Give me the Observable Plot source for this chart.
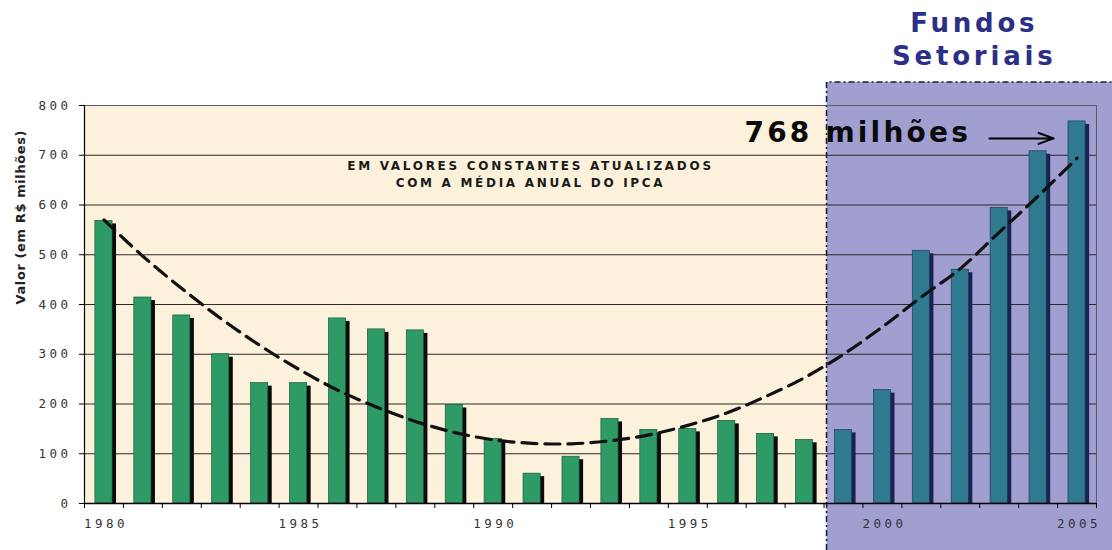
<!DOCTYPE html>
<html><head><meta charset="utf-8">
<script src="https://cdn.jsdelivr.net/npm/d3@7"></script>
<script src="https://cdn.jsdelivr.net/npm/@observablehq/plot@0.6"></script>
<style>
html,body{margin:0;padding:0;background:#fff;}
#chart{width:1112px;height:550px;overflow:hidden;}
</style></head><body><div id="chart"></div>
<script>
const anos = [1980,1981,1982,1983,1984,1985,1986,1987,1988,1989,1990,1991,1992,1993,1994,1995,1996,1997,1998,1999,2000,2001,2002,2003,2004,2005];
const valores = [568,414,378,300,242,242,372,350,348,198,130,60,94,170,148,150,166,140,128,148,228,508,470,594,708,768];
const tendencia = [570,497,432,372,318,270,228,194,165,143,128,121,120,126,138,157,182,215,253,300,355,415,472,545,618,694];
const ticksValor = [0,100,200,300,400,500,600,700,800];
const rotulosAnos = [1980,1985,1990,1995,2000,2005];
const inicioFundos = 1999;
const titulo = "Fundos\nSetoriais";
const nota = "EM VALORES CONSTANTES ATUALIZADOS\nCOM A MÉDIA ANUAL DO IPCA";
const rotuloY = "Valor (em R$ milhões)";
const unidade = "milhões";

const dados = anos.map((ano, i) => ({ano, valor: valores[i], tendencia: tendencia[i], fundos: ano >= inicioFundos}));
const limites = [anos[0] - 0.5, ...anos.map(a => a + 0.5)];
const ultimo = dados[dados.length - 1];
const centroFundos = d3.mean(anos.filter(a => a >= inicioFundos));
const meia = 0.22;

function caixaFundos(index, scales, values, dim) {
  const x0 = scales.x(inicioFundos - 0.5) + 3;
  const y0 = dim.marginTop - 23;
  const g = d3.create("svg:g");
  g.append("rect").attr("x", x0).attr("y", y0).attr("width", dim.width - x0).attr("height", dim.height - y0).attr("fill", "#a19ed0");
  g.append("path").attr("d", `M${x0},${dim.height}V${y0}H${dim.width}`).attr("fill", "none")
    .attr("stroke", "#1c1c40").attr("stroke-width", 1.6).attr("stroke-dasharray", "6,3,2,3");
  return g.node();
}

const mono = "'DejaVu Sans Mono', monospace";

const chart = Plot.plot({
  width: 1112, height: 550,
  marginTop: 105, marginBottom: 47, marginLeft: 84, marginRight: 16,
  style: {background: "transparent", fontFamily: "DejaVu Sans", overflow: "visible"},
  x: {domain: [limites[0], limites[limites.length - 1]], axis: null},
  y: {domain: [0, 800], axis: null},
  marks: [
    Plot.frame({fill: "#fcf1da"}),
    caixaFundos,
    Plot.ruleY(ticksValor.filter(v => v > 0 && v < 800), {stroke: "#2a2a2a", strokeWidth: 1}),
    Plot.frame({stroke: "#5a5a6a", strokeWidth: 1}),
    Plot.rect(dados, {x1: d => d.ano - meia, x2: d => d.ano + meia, y1: 0, y2: "valor",
      fill: d => d.fundos ? "#1b2152" : "#0b0b0b", dx: 4, dy: 3, clip: true}),
    Plot.rect(dados, {x1: d => d.ano - meia, x2: d => d.ano + meia, y1: 0, y2: "valor",
      fill: d => d.fundos ? "#2f7a8e" : "#2e9a66", stroke: d => d.fundos ? "#1d3f5a" : "#1f5a3a", strokeWidth: 0.7}),
    Plot.line(dados, {x: "ano", y: "tendencia", curve: "catmull-rom", stroke: "#111", strokeWidth: 3.2, strokeDasharray: "15,8"}),
    Plot.ruleY([0], {stroke: "#000", strokeWidth: 1.5}),
    Plot.ruleX([limites[0]], {stroke: "#000", strokeWidth: 1.2}),
    Plot.axisY({ticks: ticksValor, tickSize: 5, tickPadding: 8, tickFormat: d => String(d), label: null, fill: "#333", fontSize: 12.5, fontFamily: mono}),
    Plot.axisX({ticks: limites, tickSize: 5, tickFormat: () => "", label: null}),
    Plot.axisX({ticks: rotulosAnos, tickSize: 0, tickPadding: 16, tickFormat: d => String(d), label: null, fill: "#333", fontSize: 12.5, fontFamily: mono, dx: 2}),
    Plot.text([rotuloY], {frameAnchor: "left", rotate: -90, dx: -64, fontWeight: "bold", fontSize: 13, fill: "#222"}),
    Plot.text([nota], {frameAnchor: "top", lineAnchor: "middle", dx: -60, dy: 68, fontWeight: "bold", fontSize: 12, lineHeight: 1.4, fill: "#1a1a1a"}),
    Plot.text([{ano: centroFundos, texto: titulo}], {x: "ano", text: "texto", frameAnchor: "top", lineAnchor: "middle", dx: 14, dy: -68, fontWeight: "bold", fontSize: 26, lineHeight: 1.27, fill: "#2c2f86"}),
    Plot.text([ultimo], {x: "ano", y: "valor", text: d => `${d.valor} ${unidade}`, textAnchor: "end", dx: -106, dy: 12, fontWeight: "bold", fontSize: 28, fill: "#0a0a0a"}),
    Plot.arrow([ultimo], {x1: d => d.ano - 2.25, x2: d => d.ano - 0.6, y1: "valor", y2: "valor", dy: 17, stroke: "#000", strokeWidth: 2, headAngle: 40, headLength: 12})
  ]
});
document.getElementById("chart").append(chart);

function espaco(el, px) {
  el.setAttribute("letter-spacing", px);
  el.style.letterSpacing = px + "px";
}
chart.querySelectorAll("text").forEach(el => {
  const t = el.textContent;
  if (/^\d+$/.test(t)) { el.style.fontFamily = mono; espaco(el, 3.5); }
  else if (t.startsWith("Fundos")) espaco(el, 3.8);
  else if (t.startsWith("EM VALORES")) espaco(el, 2.7);
  else if (t.endsWith(unidade)) espaco(el, 3.2);
  else if (t.startsWith("Valor")) espaco(el, 0.6);
});
</script></body></html>
